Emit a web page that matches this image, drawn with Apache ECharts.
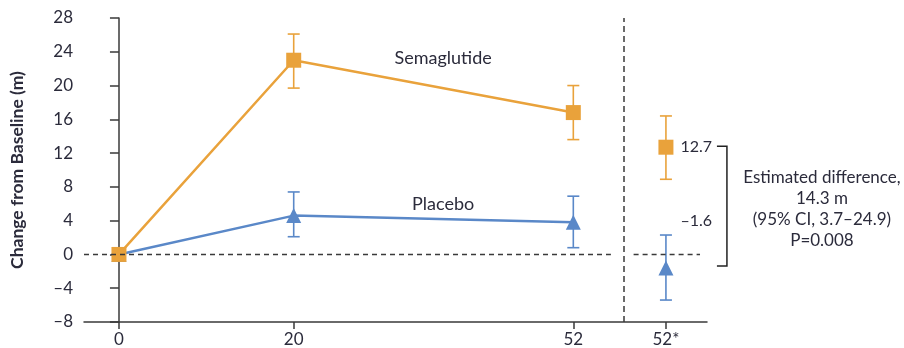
<!DOCTYPE html>
<html style="height: 100%">
<head>
 <meta charset="utf-8">
 <title>ECharts</title>
 <script src="https://cdn.jsdelivr.net/npm/echarts/dist/echarts.min.js"></script>
</head>
<body style="height: 100%; margin: 0; background: #fff">
 <div id="main" style="width: 904px; height: 348px"></div>
 <script type="text/javascript">
 // weeks on the x axis, the last slot ("52*") is the estimated difference panel
 var weeks = [0, 20, 52];
 var tickValues = [0, 20, 52, 62.6];
 var tickLabels = ['0', '20', '52', '52*'];
 var diffSlot = 62.6;
 var separatorAt = 57.8;

 var semaMean = [0, 23.0, 16.8];
 var semaLow = [null, 19.7, 13.6];
 var semaHigh = [null, 26.1, 20.0];

 var placeboMean = [0, 4.6, 3.8];
 var placeboLow = [null, 2.1, 0.8];
 var placeboHigh = [null, 7.4, 6.9];

 // estimated values at week 52 (semaglutide, placebo)
 var diffMean = [12.7, -1.6];
 var diffLow = [8.9, -5.4];
 var diffHigh = [16.4, 2.3];

 // dashed zero reference line, split around the separator
 var zeroSpans = [[-4, 56.3], [58.9, 66.5]];

 var orange = '#E9A23B';
 var blue = '#5A88C8';
 var ink = '#2b2b3b';
 var axisColor = '#3a3a3a';
 var font = 'Lato';

 function fmt(v) {
 return v < 0 ? '\u2013' + Math.abs(v) : String(v);
 }

 function pairs(xs, ys) {
 return xs.map(function (x, i) { return [x, ys[i]]; });
 }

 function bars(xs, lo, hi) {
 var out = [];
 xs.forEach(function (x, i) {
 if (lo[i] != null) out.push([x, lo[i], hi[i]]);
 });
 return out;
 }

 function errorBar(color) {
 return function (params, api) {
 var x = api.value(0);
 var lo = api.coord([x, api.value(1)]);
 var hi = api.coord([x, api.value(2)]);
 var w = 6;
 var st = { stroke: color, lineWidth: 1.6 };
 return {
 type: 'group',
 children: [
 { type: 'line', shape: { x1: lo[0], y1: lo[1], x2: hi[0], y2: hi[1] }, style: st },
 { type: 'line', shape: { x1: hi[0] - w, y1: hi[1], x2: hi[0] + w, y2: hi[1] }, style: st },
 { type: 'line', shape: { x1: lo[0] - w, y1: lo[1], x2: lo[0] + w, y2: lo[1] }, style: st }
 ]
 };
 };
 }

 var myChart = echarts.init(document.getElementById('main'));

 var option = {
 animation: false,
 textStyle: { fontFamily: font },
 grid: { left: 83, right: 197, top: 18, bottom: 26 },
 xAxis: {
 type: 'value',
 min: -4,
 max: 67.3,
 splitLine: { show: false },
 axisLine: { onZero: false, lineStyle: { color: axisColor, width: 1.5 } },
 axisTick: { show: true, length: 7, customValues: tickValues, lineStyle: { color: axisColor, width: 1.5 } },
 axisLabel: {
 customValues: tickValues,
 color: ink,
 fontSize: 17,
 fontFamily: font,
 margin: 9,
 formatter: function (v) {
 var i = tickValues.indexOf(v);
 return i >= 0 ? tickLabels[i] : '';
 }
 }
 },
 yAxis: {
 type: 'value',
 min: -8,
 max: 28,
 interval: 4,
 splitLine: { show: false },
 axisLine: { show: true, lineStyle: { color: axisColor, width: 1.5 } },
 axisTick: { show: true, length: 9, lineStyle: { color: axisColor, width: 1.5 } },
 axisLabel: { color: ink, fontSize: 17, fontFamily: font, margin: 11, formatter: fmt },
 name: 'Change from Baseline (m)',
 nameLocation: 'middle',
 nameRotate: 90,
 nameGap: 58,
 nameTextStyle: { color: ink, fontSize: 17.5, fontWeight: 'bold', fontFamily: font }
 },
 series: [
 {
 name: 'Placebo',
 type: 'line',
 data: pairs(weeks, placeboMean),
 symbol: 'triangle',
 symbolSize: 15,
 itemStyle: { color: blue },
 lineStyle: { color: blue, width: 2.5 },
 z: 3,
 markLine: {
 silent: true,
 symbol: 'none',
 label: { show: false },
 lineStyle: { color: axisColor, type: [5, 4], width: 1.3 },
 data: [
 [{ coord: [zeroSpans[0][0], 0] }, { coord: [zeroSpans[0][1], 0] }],
 [{ coord: [zeroSpans[1][0], 0] }, { coord: [zeroSpans[1][1], 0] }],
 { xAxis: separatorAt, lineStyle: { type: [6, 4], width: 1.5 } }
 ]
 }
 },
 {
 name: 'Semaglutide',
 type: 'line',
 data: pairs(weeks, semaMean),
 symbol: 'rect',
 symbolSize: 15,
 itemStyle: { color: orange },
 lineStyle: { color: orange, width: 2.5 },
 z: 4
 },
 {
 type: 'custom',
 renderItem: errorBar(orange),
 data: bars(weeks, semaLow, semaHigh).concat([[diffSlot, diffLow[0], diffHigh[0]]]),
 z: 2
 },
 {
 type: 'custom',
 renderItem: errorBar(blue),
 data: bars(weeks, placeboLow, placeboHigh).concat([[diffSlot, diffLow[1], diffHigh[1]]]),
 z: 2
 },
 {
 type: 'scatter',
 data: [[diffSlot, diffMean[0]]],
 symbol: 'rect',
 symbolSize: 15,
 itemStyle: { color: orange, opacity: 1 },
 z: 4,
 label: {
 show: true, position: 'right', distance: 7, color: ink, fontSize: 16, fontFamily: font,
 formatter: function (p) { return fmt(p.value[1]); }
 }
 },
 {
 type: 'scatter',
 data: [[diffSlot, diffMean[1]]],
 symbol: 'triangle',
 symbolSize: 15,
 itemStyle: { color: blue, opacity: 1 },
 z: 4,
 label: {
 show: true, position: 'right', distance: 7, offset: [0, -47], color: ink, fontSize: 16, fontFamily: font,
 formatter: function (p) { return fmt(p.value[1]); }
 }
 }
 ]
 };

 myChart.setOption(option);

 // annotations placed from the axis scales
 var hiPt = myChart.convertToPixel({ gridIndex: 0 }, [diffSlot, diffMean[0]]);
 var loPt = myChart.convertToPixel({ gridIndex: 0 }, [diffSlot, diffMean[1]]);
 var bx = hiPt[0] + 61;
 var labelStyle = { fill: ink, fontSize: 18, fontFamily: font, textAlign: 'center', textVerticalAlign: 'middle' };

 myChart.setOption({
 graphic: [
 {
 type: 'polyline',
 shape: { points: [[bx - 10, hiPt[1] - 1], [bx, hiPt[1] - 1], [bx, loPt[1] - 2], [bx - 10, loPt[1] - 2]] },
 style: { stroke: '#222', lineWidth: 1.5, fill: null }
 },
 {
 type: 'text',
 x: bx + 95,
 y: (hiPt[1] + loPt[1]) / 2 - 41,
 style: {
 text: 'Estimated difference,\n14.3 m\n(95% CI, 3.7\u201324.9)\nP=0.008',
 fill: ink, fontSize: 17, fontFamily: font, align: 'center', lineHeight: 21
 }
 },
 {
 type: 'text',
 position: myChart.convertToPixel({ gridIndex: 0 }, [37.1, 23.2]),
 style: Object.assign({ text: 'Semaglutide' }, labelStyle)
 },
 {
 type: 'text',
 position: myChart.convertToPixel({ gridIndex: 0 }, [37.1, 6.0]),
 style: Object.assign({ text: 'Placebo' }, labelStyle)
 }
 ]
 });
 </script>
</body>
</html>
